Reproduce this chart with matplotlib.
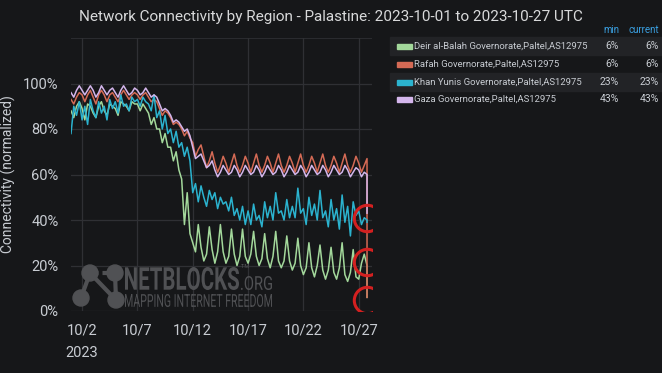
import matplotlib.pyplot as plt
import numpy as np
from matplotlib.font_manager import FontProperties
from matplotlib.patches import PathPatch, Circle
from matplotlib.textpath import TextPath
from matplotlib.transforms import Affine2D, IdentityTransform

plt.rcParams['font.family'] = ['Roboto', 'DejaVu Sans']

BG = '#161719'
GRID = '#2f3034'
TXT = '#c8ccd2'

# samples every 6 hours from 2023-10-01 00:00 UTC (4 per day), last value is the outage drop
deir = [88, 85, 90, 92,  89, 84, 91, 90,  87, 85, 90, 92,  88, 86, 91, 90,
        89, 86, 92, 91,  90, 88, 92, 91,  91, 88, 91, 89,  87, 82, 85, 80,
        80, 74, 78, 72,  72, 66, 70, 62,  58, 38, 52, 34,  30, 26, 38, 28,
        22, 25, 37, 27,  21, 26, 38, 26,  21, 24, 36, 25,  20, 24, 36, 24,
        21, 25, 35, 24,  20, 23, 34, 23,  19, 24, 35, 22,  19, 22, 33, 22,
        18, 21, 32, 20,  16, 19, 30, 19,  15, 20, 29, 18,  14, 18, 28, 17,
        14, 19, 30, 16,  13, 17, 27, 15,  14, 21, 25, 20,  6]
rafah = [93, 91, 94, 96,  95, 92, 95, 97,  94, 91, 95, 97,  95, 92, 95, 96,
         94, 92, 95, 97,  95, 93, 95, 96,  95, 93, 95, 96,  94, 92, 93, 92,
         89, 86, 88, 87,  85, 82, 83, 82,  80, 77, 79, 76,  74, 68, 71, 73,
         68, 63, 66, 70,  65, 61, 64, 68,  65, 61, 65, 69,  64, 61, 64, 68,
         65, 61, 65, 69,  64, 61, 64, 68,  65, 61, 65, 69,  64, 61, 64, 68,
         65, 61, 65, 69,  64, 61, 64, 68,  65, 61, 65, 69,  64, 61, 64, 68,
         65, 61, 65, 69,  64, 61, 64, 68,  65, 61, 64, 67,  6]
khan = [78, 90, 86, 92,  84, 90, 82, 93,  88, 85, 92, 87,  90, 84, 93, 89,
        92, 87, 95, 90,  91, 88, 94, 92,  93, 90, 94, 92,  91, 88, 95, 85,
        88, 80, 86, 78,  80, 74, 79, 72,  74, 68, 72, 66,  52, 56, 48, 55,
        50, 46, 53, 49,  52, 45, 50, 47,  48, 44, 50, 42,  45, 40, 46, 38,
        44, 38, 47, 40,  42, 37, 48, 41,  46, 40, 52, 43,  44, 40, 49, 41,
        46, 41, 54, 43,  45, 38, 50, 42,  47, 40, 53, 41,  44, 37, 49, 40,
        45, 36, 51, 39,  46, 33, 48, 42,  44, 38, 41, 40,  39]
gaza = [96, 94, 97, 99,  97, 95, 97, 99,  97, 94, 96, 99,  97, 95, 97, 98,
        96, 94, 97, 99,  97, 95, 96, 98,  97, 95, 96, 98,  96, 94, 95, 94,
        91, 88, 89, 88,  86, 83, 84, 83,  81, 79, 80, 77,  72, 67, 68, 69,
        66, 63, 64, 66,  62, 59, 61, 64,  62, 60, 61, 64,  62, 59, 61, 64,
        62, 60, 61, 64,  62, 59, 61, 64,  62, 60, 61, 64,  62, 59, 61, 64,
        62, 60, 61, 64,  62, 59, 61, 64,  62, 60, 61, 64,  62, 59, 61, 64,
        62, 60, 61, 64,  62, 59, 61, 63,  62, 59, 61, 60,  43]

names = ['Deir al-Balah Governorate,Paltel,AS12975', 'Rafah Governorate,Paltel,AS12975',
         'Khan Yunis Governorate,Paltel,AS12975', 'Gaza Governorate,Paltel,AS12975']
colors = ['#a3d89b', '#d46a55', '#2bb3cf', '#d4b6ec']
mins = ['6%', '6%', '23%', '43%']
currents = ['6%', '6%', '23%', '43%']
tick_days = [1, 6, 11, 16, 21, 26]
tick_labels = ['10/2\n2023', '10/7', '10/12', '10/17', '10/22', '10/27']

W, H = 662, 373
fig = plt.figure(figsize=(W / 100, H / 100), dpi=100, facecolor=BG)
ax = fig.add_axes([71 / W, 62 / H, 301 / W, 273 / H], facecolor=BG)

for vals, c in zip([deir, rafah, khan, gaza], colors):
    v = np.array(vals) / 100
    t = np.arange(len(v) - 1) / 4
    t = np.append(t, t[-1])  # outage drop at the last sample
    ax.plot(t, v, color=c, lw=1.1)

# red rings marking the end values
end_t = (len(deir) - 2) / 4
for y in [0.41, 0.215, 0.05]:
    ax.plot(end_t, y, 'o', ms=19, mfc='none', mec='#d42020', mew=2.2, zorder=5)

ax.set_xlim(0, 27.2)
ax.set_ylim(0, 1.2)
ax.set_yticks([0, 0.2, 0.4, 0.6, 0.8, 1.0])
ax.set_yticklabels(['0%', '20%', '40%', '60%', '80%', '100%'])
ax.set_xticks(tick_days)
ax.set_xticklabels(tick_labels, linespacing=1.8, va='top')
ax.grid(True, color=GRID, lw=0.9)
ax.axhline(1.2, color=GRID, lw=1.2)
for s in ax.spines.values():
    s.set_visible(False)
ax.tick_params(colors=TXT, labelsize=10.5, length=0, pad=9)
ax.set_ylabel('Connectivity (normalized)', color=TXT, fontsize=10, labelpad=5)

fig.text(0.5, 0.955, 'Network Connectivity by Region - Palastine: 2023-10-01 to 2023-10-27 UTC',
         ha='center', va='center', color='#d8d9da', fontsize=11)


# watermark, text stretched into pixel boxes (top-left origin)
def box_text(s, x0, x1, ytop, ybot, color, bold=False):
    prop = FontProperties(family='Roboto', weight='bold' if bold else 'normal')
    p = TextPath((0, 0), s, size=10, prop=prop)
    e = p.get_extents()
    tr = Affine2D().translate(-e.x0, -e.y0).scale((x1 - x0) / e.width, (ybot - ytop) / e.height)
    tr = tr.translate(x0, H - ybot)
    fig.add_artist(PathPatch(tr.transform_path(p), color=color, lw=0,
                             transform=IdentityTransform()))


wm = '#505154'
box_text('NETBLOCKS', 125, 239, 267, 290, wm, bold=True)
box_text('.ORG', 241, 272, 276, 290, wm)
box_text('TM', 241, 249, 264, 268, wm)
box_text('MAPPING INTERNET FREEDOM', 125, 272, 294, 307, wm)
lx = [90, 115, 81, 116]
ly = [H - 273, H - 273, H - 298, H - 300]
for a, b, ls in [(0, 1, (0, (2, 1))), (0, 3, '-'), (0, 2, '-'), (1, 3, '-')]:
    fig.add_artist(plt.Line2D([lx[a], lx[b]], [ly[a], ly[b]], color=wm, lw=3, ls=ls,
                              transform=IdentityTransform()))
for x, y in zip(lx, ly):
    fig.add_artist(Circle((x, y), 8, color=wm, transform=IdentityTransform()))

# legend table
fig.text(619 / W, 1 - 30 / H, 'min', color='#3a9fe0', fontsize=7, ha='right', va='center')
fig.text(659 / W, 1 - 30 / H, 'current', color='#3a9fe0', fontsize=7, ha='right', va='center')
row_y = [46, 64, 82, 99]
for i, (n, c, mn, cu) in enumerate(zip(names, colors, mins, currents)):
    y = 1 - row_y[i] / H
    if i % 2 == 0:
        fig.add_artist(plt.Rectangle((390 / W, y - 8.5 / H), 272 / W, 17 / H,
                                     color='#222326', transform=fig.transFigure, zorder=0))
    fig.add_artist(plt.Rectangle((397 / W, y - 2.5 / H), 15 / W, 5 / H, color=c,
                                 transform=fig.transFigure))
    fig.text(414 / W, y, n, color=TXT, fontsize=6.8, va='center', ha='left')
    fig.text(619 / W, y, mn, color=TXT, fontsize=7.5, va='center', ha='right')
    fig.text(659 / W, y, cu, color=TXT, fontsize=7.5, va='center', ha='right')

fig.savefig('out.png', dpi=100, facecolor=BG)
